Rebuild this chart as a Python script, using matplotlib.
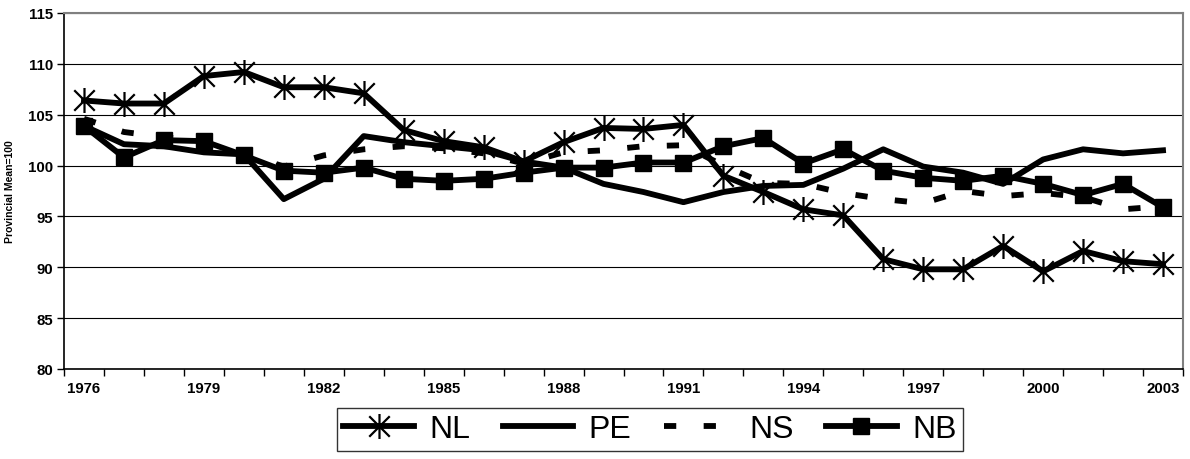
import matplotlib
matplotlib.use("Agg")
import matplotlib.pyplot as plt
from matplotlib.path import Path

plt.rcParams['font.family'] = ['Liberation Sans', 'DejaVu Sans']

years = list(range(1976, 2004))
NL = [106.4, 106.1, 106.1, 108.8, 109.2, 107.7, 107.7, 107.1, 103.5, 102.4,
      101.8, 100.4, 102.3, 103.7, 103.6, 104.0, 99.0, 97.4, 95.7, 95.1,
      90.8, 89.8, 89.8, 92.1, 89.6, 91.6, 90.6, 90.3]
PE = [103.9, 102.1, 101.9, 101.3, 101.1, 96.7, 98.7, 102.9, 102.3, 101.9,
      101.5, 100.4, 99.8, 98.2, 97.4, 96.4, 97.4, 98.0, 98.1, 99.7,
      101.6, 99.9, 99.3, 98.2, 100.6, 101.6, 101.2, 101.5]
NS = [104.6, 103.3, 102.8, 102.4, 101.2, 99.9, 101.0, 101.6, 101.9, 101.7,
      101.2, 100.2, 101.3, 101.5, 101.9, 102.0, 100.0, 98.3, 98.2, 97.3,
      96.7, 96.3, 97.5, 97.0, 97.3, 96.9, 95.7, 96.0]
NB = [103.9, 100.8, 102.5, 102.4, 101.0, 99.5, 99.3, 99.8, 98.7, 98.5,
      98.7, 99.3, 99.8, 99.8, 100.3, 100.3, 101.9, 102.7, 100.2, 101.6,
      99.5, 98.8, 98.5, 99.0, 98.2, 97.1, 98.2, 95.9]
yticks = [80, 85, 90, 95, 100, 105, 110, 115]
label_years = [1976, 1979, 1982, 1985, 1988, 1991, 1994, 1997, 2000, 2003]

star = Path([(0, -1), (0, 1), (-0.82, -0.82), (0.82, 0.82), (-0.82, 0.82), (0.82, -0.82)],
            [Path.MOVETO, Path.LINETO, Path.MOVETO, Path.LINETO, Path.MOVETO, Path.LINETO])

fig = plt.figure(figsize=(11.9, 4.6), dpi=100)
ax = fig.add_axes([64/1190, 1-370/460, (1183-64)/1190, (370-14)/460])

x = list(range(len(years)))
lw = 4.2
ax.plot(x, PE, color='black', lw=lw, label='PE', zorder=3)
ax.plot(x, NS, color='black', lw=lw, dashes=(2.1, 4.7), label='NS', zorder=3)
ax.plot(x, NB, color='black', lw=lw, marker='s', markersize=12, label='NB', zorder=4)
ax.plot(x, NL, color='black', lw=lw, marker=star, markersize=18, markeredgewidth=1.6,
        markerfacecolor='none', label='NL', zorder=5)

ax.set_xlim(-0.5, len(years) - 0.5)
ax.set_ylim(80, 115)
ax.set_yticks(yticks)
ax.set_yticklabels([str(v) for v in yticks], fontsize=10.8, fontweight='bold')
ax.set_xticks([years.index(yv) for yv in label_years])
ax.set_xticklabels([str(yv) for yv in label_years], fontsize=10.8, fontweight='bold')
ax.tick_params(axis='x', length=0, pad=9)
ax.set_xticks([i - 0.5 for i in range(len(years) + 1)], minor=True)
ax.tick_params(axis='x', which='minor', length=5, width=1, direction='out', color='black')
ax.tick_params(axis='y', length=5, width=1, direction='out', pad=3)
ax.grid(axis='y', color='black', lw=0.8)
ax.set_axisbelow(True)
for s in ['top', 'right']:
    ax.spines[s].set_color('#808080')
    ax.spines[s].set_linewidth(1.5)
for s in ['left', 'bottom']:
    ax.spines[s].set_color('black')
    ax.spines[s].set_linewidth(1.2)
ax.set_ylabel('Provincial Mean=100', fontsize=7.5, fontweight='bold', labelpad=9)

handles, labels = ax.get_legend_handles_labels()
order = [labels.index(n) for n in ['NL', 'PE', 'NS', 'NB']]
leg = fig.legend([handles[i] for i in order], [labels[i] for i in order],
                 loc='upper left', bbox_to_anchor=(337/1190, 1-409/460),
                 ncol=4, fontsize=23, frameon=True, fancybox=False,
                 handlelength=2.2, handletextpad=0.5, columnspacing=1.0,
                 borderpad=0.2, borderaxespad=0)
leg.get_frame().set_edgecolor('black')
leg.get_frame().set_linewidth(1.0)

fig.savefig('out.png', dpi=100)
